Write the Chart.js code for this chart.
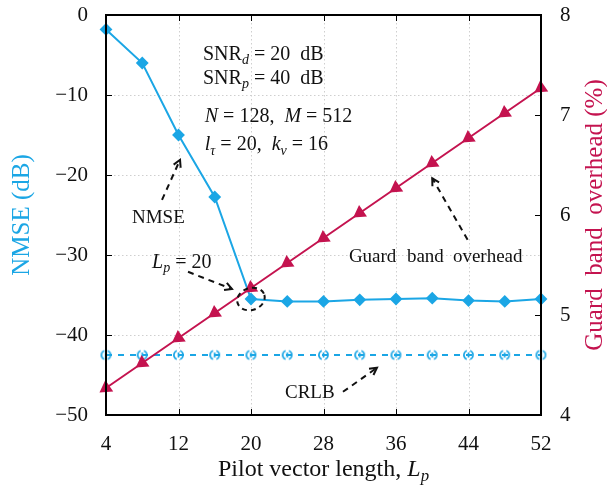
<!DOCTYPE html>
<html>
<head>
<meta charset="utf-8">
<script src="https://cdn.jsdelivr.net/npm/chart.js@4.4.1/dist/chart.umd.min.js"></script>
<style>
  html, body { margin: 0; padding: 0; background: #fff; }
  #wrap { width: 607px; height: 489px; }
</style>
</head>
<body>
<div id="wrap"><canvas id="chart"></canvas></div>
<script>
// Data
const pilotLengths = [4, 8, 12, 16, 20, 24, 28, 32, 36, 40, 44, 48, 52];
const nmseDb = [-1.8, -6.0, -15.0, -22.75, -35.5, -35.8, -35.8, -35.6, -35.5, -35.4, -35.7, -35.8, -35.5];
const crlbDb = [-42.5, -42.5, -42.5, -42.5, -42.5, -42.5, -42.5, -42.5, -42.5, -42.5, -42.5, -42.5, -42.5];
const guardBandPct = [4.27, 4.52, 4.77, 5.02, 5.27, 5.52, 5.77, 6.02, 6.27, 6.52, 6.77, 7.02, 7.27];

const xTicks = [4, 12, 20, 28, 36, 44, 52];
const nmseTicks = [-50, -40, -30, -20, -10, 0];
const guardTicks = [4, 5, 6, 7, 8];

const CYAN = '#1ba6e5';
const CRIMSON = '#c4134f';
const SERIF = '"Liberation Serif", "Times New Roman", serif';

// dashed open circle marker for the CRLB curve
function crlbMarker() {
    const c = document.createElement('canvas');
    c.width = 13; c.height = 13;
    const g = c.getContext('2d');
    g.strokeStyle = CYAN;
    g.lineWidth = 1.7;
    g.beginPath(); g.arc(6.5, 6.5, 4.6, Math.PI * 0.62, Math.PI * 1.38); g.stroke();
    g.beginPath(); g.arc(6.5, 6.5, 4.6, -Math.PI * 0.38, Math.PI * 0.38); g.stroke();
    g.beginPath(); g.moveTo(6.5, 4); g.lineTo(6.5, 9); g.stroke();
    return c;
}

// text with italic parts and subscripts: kind r = roman, i = italic, sr / si = subscript
function drawRich(ctx, segs, x, y, size, align) {
    const parts = segs.map(([t, k]) => {
        const sub = k[0] === 's';
        const it = k.endsWith('i');
        const fs = sub ? size * 0.7 : size;
        const font = (it ? 'italic ' : '') + fs + 'px ' + SERIF;
        ctx.font = font;
        return { t, font, w: ctx.measureText(t).width, dy: sub ? size * 0.22 : 0 };
    });
    const total = parts.reduce((s, p) => s + p.w, 0);
    let cx = align === 'center' ? x - total / 2 : x;
    ctx.textAlign = 'left';
    ctx.textBaseline = 'alphabetic';
    parts.forEach(p => { ctx.font = p.font; ctx.fillText(p.t, cx, y + p.dy); cx += p.w; });
    return total;
}

function dashedArrow(ctx, x1, y1, x2, y2) {
    ctx.save();
    ctx.strokeStyle = '#111';
    ctx.lineWidth = 2;
    ctx.setLineDash([6, 5]);
    ctx.beginPath(); ctx.moveTo(x1, y1); ctx.lineTo(x2, y2); ctx.stroke();
    ctx.setLineDash([]);
    const a = Math.atan2(y2 - y1, x2 - x1);
    const L = 8, w = 0.5;
    ctx.beginPath();
    ctx.moveTo(x2 - L * Math.cos(a - w), y2 - L * Math.sin(a - w));
    ctx.lineTo(x2, y2);
    ctx.lineTo(x2 - L * Math.cos(a + w), y2 - L * Math.sin(a + w));
    ctx.stroke();
    ctx.restore();
}

// frame, dotted grid and inner ticks
const framePlugin = {
    id: 'frame',
    beforeDatasetsDraw(chart) {
        const { ctx, chartArea: a, scales } = chart;
        ctx.save();
        ctx.strokeStyle = '#cfcfcf';
        ctx.lineWidth = 1;
        ctx.setLineDash([1.5, 2.5]);
        xTicks.slice(1, -1).forEach(v => {
            const x = Math.round(scales.x.getPixelForValue(v)) + 0.5;
            ctx.beginPath(); ctx.moveTo(x, a.top); ctx.lineTo(x, a.bottom); ctx.stroke();
        });
        nmseTicks.slice(1, -1).forEach(v => {
            const y = Math.round(scales.y.getPixelForValue(v)) + 0.5;
            ctx.beginPath(); ctx.moveTo(a.left, y); ctx.lineTo(a.right, y); ctx.stroke();
        });
        ctx.restore();
    },
    afterDatasetsDraw(chart) {
        const { ctx, chartArea: a, scales } = chart;
        ctx.save();
        ctx.strokeStyle = '#000';
        ctx.lineWidth = 1;
        const t = 6;
        xTicks.slice(1, -1).forEach(v => {
            const x = Math.round(scales.x.getPixelForValue(v)) + 0.5;
            ctx.beginPath(); ctx.moveTo(x, a.bottom); ctx.lineTo(x, a.bottom - t); ctx.stroke();
            ctx.beginPath(); ctx.moveTo(x, a.top); ctx.lineTo(x, a.top + t); ctx.stroke();
        });
        nmseTicks.slice(1, -1).forEach(v => {
            const y = Math.round(scales.y.getPixelForValue(v)) + 0.5;
            ctx.beginPath(); ctx.moveTo(a.left, y); ctx.lineTo(a.left + t, y); ctx.stroke();
        });
        guardTicks.slice(1, -1).forEach(v => {
            const y = Math.round(scales.y1.getPixelForValue(v)) + 0.5;
            ctx.beginPath(); ctx.moveTo(a.right, y); ctx.lineTo(a.right - t, y); ctx.stroke();
        });
        ctx.lineWidth = 2;
        ctx.strokeRect(a.left, a.top, a.right - a.left, a.bottom - a.top);
        ctx.restore();
    }
};

// axis titles and in-plot notes
const notesPlugin = {
    id: 'notes',
    afterDraw(chart) {
        const { ctx, chartArea: a, scales } = chart;
        const px = v => scales.x.getPixelForValue(v);
        const py = v => scales.y.getPixelForValue(v);
        const midY = (a.top + a.bottom) / 2;
        ctx.save();

        // axis titles
        ctx.fillStyle = '#111';
        drawRich(ctx, [['Pilot vector length, ', 'r'], ['L', 'i'], ['p', 'si']], (a.left + a.right) / 2, 476, 24, 'center');

        ctx.save();
        ctx.translate(29, midY);
        ctx.rotate(-Math.PI / 2);
        ctx.fillStyle = CYAN;
        drawRich(ctx, [['NMSE (dB)', 'r']], 0, 0, 25, 'center');
        ctx.restore();

        ctx.save();
        ctx.translate(602, midY);
        ctx.rotate(-Math.PI / 2);
        ctx.fillStyle = CRIMSON;
        drawRich(ctx, [['Guard  band  overhead (%)', 'r']], 0, 0, 25, 'center');
        ctx.restore();

        // parameter block
        ctx.fillStyle = '#111';
        drawRich(ctx, [['SNR', 'r'], ['d', 'si'], [' = 20  dB', 'r']], px(14.7), py(-5.6), 20);
        drawRich(ctx, [['SNR', 'r'], ['p', 'si'], [' = 40  dB', 'r']], px(14.7), py(-8.6), 20);
        drawRich(ctx, [['N', 'i'], [' = 128,  ', 'r'], ['M', 'i'], [' = 512', 'r']], px(14.9), py(-13.4), 20);
        drawRich(ctx, [['l', 'i'], ['\u03c4', 'si'], [' = 20,  ', 'r'], ['k', 'i'], ['\u03bd', 'si'], [' = 16', 'r']], px(14.9), py(-16.9), 20);

        // curve labels
        drawRich(ctx, [['NMSE', 'r']], px(6.87), py(-26), 19);
        dashedArrow(ctx, px(10.18), py(-23.1), px(12.17), py(-18.1));

        drawRich(ctx, [['L', 'i'], ['p', 'si'], [' = 20', 'r']], px(9.08), py(-31.6), 20);
        dashedArrow(ctx, px(13.05), py(-32.1), px(17.9), py(-34.25));
        ctx.save();
        ctx.strokeStyle = '#111';
        ctx.lineWidth = 2;
        ctx.setLineDash([5, 4]);
        ctx.beginPath();
        ctx.ellipse(px(20), py(-35.5), 14, 11, -0.3, 0, Math.PI * 2);
        ctx.stroke();
        ctx.restore();

        drawRich(ctx, [['Guard', 'r']], px(30.8), py(-30.9), 19);
        drawRich(ctx, [['band', 'r']], px(30.8) + 58, py(-30.9), 19);
        drawRich(ctx, [['overhead', 'r']], px(30.8) + 104, py(-30.9), 19);
        dashedArrow(ctx, px(43.9), py(-28.1), px(40), py(-20.4));

        drawRich(ctx, [['CRLB', 'r']], px(23.75), py(-47.9), 19);
        dashedArrow(ctx, px(30.15), py(-47.1), px(33.9), py(-44.1));

        ctx.restore();
    }
};

const toXY = (xs, ys) => xs.map((x, i) => ({ x, y: ys[i] }));
const minus = v => String(v).replace('-', '\u2212');
const noPad = s => { s.paddingTop = 0; s.paddingBottom = 0; s.paddingLeft = 0; s.paddingRight = 0; };

new Chart(document.getElementById('chart'), {
    type: 'line',
    data: {
        datasets: [
            {
                label: 'Guard band overhead',
                data: toXY(pilotLengths, guardBandPct),
                yAxisID: 'y1',
                borderColor: CRIMSON,
                backgroundColor: CRIMSON,
                borderWidth: 2,
                pointStyle: 'triangle',
                pointRotation: 235,
                pointRadius: 6,
                clip: false
            },
            {
                label: 'NMSE',
                data: toXY(pilotLengths, nmseDb),
                yAxisID: 'y',
                borderColor: CYAN,
                backgroundColor: CYAN,
                borderWidth: 2,
                pointStyle: 'rectRot',
                pointRadius: 5,
                clip: false
            },
            {
                label: 'CRLB',
                data: toXY(pilotLengths, crlbDb),
                yAxisID: 'y',
                borderColor: CYAN,
                backgroundColor: CYAN,
                borderWidth: 2,
                borderDash: [6, 6],
                pointStyle: crlbMarker(),
                pointRadius: 5,
                clip: false
            }
        ]
    },
    options: {
        responsive: true,
        maintainAspectRatio: false,
        animation: false,
        layout: { padding: { top: 15, left: 0, right: 0, bottom: 0 } },
        plugins: { legend: { display: false }, tooltip: { enabled: false } },
        scales: {
            x: {
                type: 'linear',
                min: 4, max: 52,
                afterBuildTicks: s => { s.ticks = xTicks.map(v => ({ value: v })); },
                afterFit: s => { s.height = 74; noPad(s); },
                grid: { display: false },
                border: { display: false },
                ticks: { color: '#111', padding: 9, font: { family: SERIF, size: 21 }, maxRotation: 0 }
            },
            y: {
                position: 'left',
                min: -50, max: 0,
                afterBuildTicks: s => { s.ticks = nmseTicks.map(v => ({ value: v })); },
                afterFit: s => { s.width = 106; noPad(s); },
                grid: { display: false },
                border: { display: false },
                ticks: { color: '#111', padding: 10, font: { family: SERIF, size: 21 }, callback: v => minus(v) }
            },
            y1: {
                position: 'right',
                min: 4, max: 8,
                afterBuildTicks: s => { s.ticks = guardTicks.map(v => ({ value: v })); },
                afterFit: s => { s.width = 66; noPad(s); },
                grid: { display: false },
                border: { display: false },
                ticks: { color: '#111', padding: 11, font: { family: SERIF, size: 21 } }
            }
        }
    },
    plugins: [framePlugin, notesPlugin]
});
</script>
</body>
</html>
